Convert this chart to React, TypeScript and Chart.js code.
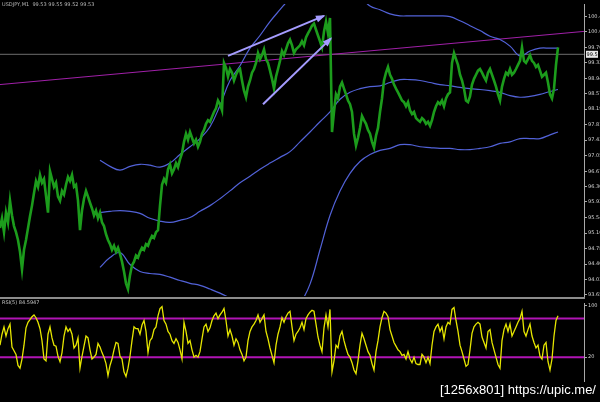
import React, { useEffect, useRef } from "react";
import { Chart, registerables } from "chart.js";
Chart.register(...registerables);

// ---- texts ----
const SYMBOL_TEXT = "USDJPY,M1  99.53 99.55 99.52 99.53";
const RSI_TITLE = "RSI(5) 84.5947";
const WATERMARK = "[1256x801] https://upic.me/";

// ---- price (close per bar, bar index = position in array) ----
const PRICE: number[] = [
  95.28, 95.52, 95.18, 95.66, 95.42, 95.95, 95.59, 95.33, 95.18, 94.99, 94.70, 94.27, 94.75, 94.99, 95.28,
  95.57, 95.83, 96.14, 96.43, 96.29, 96.58, 96.39, 96.48, 96.07, 95.66, 96.67, 96.48, 96.29, 96.39, 96.05,
  95.95, 96.19, 96.10, 96.34, 96.53, 96.43, 96.58, 96.29, 96.34, 95.95, 95.23, 95.71, 96.00, 96.19, 96.05,
  95.90, 95.76, 95.59, 95.71, 95.52, 95.66, 95.42, 95.33, 95.13, 94.99, 94.89, 94.75, 94.85, 94.70, 94.80,
  94.65, 94.46, 94.22, 93.93, 93.79, 94.13, 94.37, 94.46, 94.61, 94.56, 94.70, 94.80, 94.75, 94.89, 94.85,
  94.99, 95.09, 95.04, 95.18, 95.23, 95.83, 96.34, 96.48, 96.39, 96.72, 96.84, 96.62, 96.72, 96.87, 96.77,
  96.96, 97.11, 97.39, 97.59, 97.44, 97.63, 97.49, 97.35, 97.44, 97.27, 97.39, 97.59, 97.68, 97.83, 97.92,
  97.88, 98.00, 98.12, 98.21, 98.40, 98.31, 98.16, 99.32, 99.20, 98.98, 99.17, 99.08, 98.89, 99.03, 99.13,
  99.17, 98.89, 98.64, 98.48, 98.74, 98.89, 99.08, 99.17, 99.32, 99.56, 99.41, 99.51, 99.65, 99.41, 99.32,
  99.13, 98.93, 98.69, 98.98, 99.17, 99.37, 99.61, 99.51, 99.65, 99.80, 99.89, 99.75, 99.56, 99.65, 99.70,
  99.75, 99.85, 99.75, 99.94, 100.04, 100.13, 100.23, 100.28, 100.13, 99.99, 99.85, 99.70, 100.09, 100.33, 100.04,
  100.42, 97.63, 98.12, 98.55, 98.45, 98.74, 98.84, 98.69, 98.55, 98.40, 98.31, 98.12, 97.59, 97.30, 97.49,
  97.73, 98.02, 97.92, 97.83, 97.68, 97.59, 97.39, 97.25, 97.54, 97.73, 98.12, 98.45, 98.89, 99.08, 99.22,
  99.03, 98.93, 98.79, 98.69, 98.60, 98.50, 98.40, 98.36, 98.26, 98.36, 98.16, 98.07, 98.12, 97.97, 97.92,
  97.88, 97.97, 97.92, 97.83, 97.88, 97.78, 97.92, 98.12, 98.26, 98.36, 98.31, 98.40, 98.26, 98.45, 98.55,
  98.60, 99.32, 99.56, 99.41, 99.27, 99.03, 98.89, 98.69, 98.40, 98.36, 98.50, 98.79, 98.93, 99.03, 99.13,
  99.17, 99.08, 98.98, 98.89, 99.08, 99.17, 99.03, 98.89, 98.74, 98.55, 98.40, 98.74, 98.93, 99.08, 99.03,
  99.17, 99.03, 99.08, 99.17, 99.27, 99.37, 99.70, 99.37, 99.32, 99.41, 99.51, 99.37, 99.32, 99.22, 99.27,
  99.13, 98.98, 99.03, 99.08, 98.84, 98.55, 98.45, 98.69, 99.27, 99.70,
];

// ---- Bollinger bands ----
const BAND_BARS: number[] = [
  50, 55, 60, 65, 70, 75, 80, 85, 90, 95, 100, 105, 110, 115, 120, 125, 130, 135, 140, 145,
  150, 155, 160, 165, 170, 175, 180, 185, 190, 195, 200, 205, 210, 215, 220, 225, 230, 235, 240, 245,
  250, 255, 260, 265, 270, 275, 279,
];
const UPPER: number[] = [
  96.94, 96.79, 96.70, 96.79, 96.84, 96.82, 96.77, 96.87, 97.08, 97.27,
  97.47, 97.76, 98.28, 98.89, 99.25, 99.68, 99.99, 100.33, 100.62, 100.90,
  101.12, 101.29, 101.43, 101.48, 101.43, 101.19, 100.95, 100.71, 100.62, 100.52,
  100.47, 100.47, 100.47, 100.47, 100.47, 100.45, 100.35, 100.23, 100.11, 99.97,
  99.89, 99.73, 99.49, 99.61, 99.68, 99.68, 99.68,
];
const MIDDLE: number[] = [
  95.66, 95.69, 95.71, 95.69, 95.64, 95.52, 95.45, 95.42, 95.47, 95.54,
  95.69, 95.83, 96.00, 96.19, 96.39, 96.55, 96.72, 96.87, 97.01, 97.15,
  97.39, 97.63, 97.88, 98.12, 98.43, 98.60, 98.69, 98.74, 98.76, 98.84,
  98.91, 98.91, 98.89, 98.84, 98.79, 98.76, 98.72, 98.69, 98.67, 98.64,
  98.60, 98.52, 98.48, 98.50, 98.55, 98.62, 98.67,
];
const LOWER: number[] = [
  94.32, 94.56, 94.68, 94.39, 94.22, 94.17, 94.15, 94.08, 94.00, 93.93,
  93.88, 93.79, 93.69, 93.57, 93.43, 93.31, 93.19, 93.12, 93.12, 93.16,
  93.43, 93.91, 94.75, 95.59, 96.19, 96.62, 96.91, 97.08, 97.18, 97.23,
  97.32, 97.32, 97.27, 97.25, 97.23, 97.23, 97.20, 97.20, 97.23, 97.27,
  97.35, 97.39, 97.47, 97.47, 97.47, 97.56, 97.63,
];

// ---- annotations ----
const TREND_BARS = [0, 292];
const TREND = [98.79, 100.09];
const ARROW1_BARS = [114, 162];
const ARROW1 = [99.49, 100.47];
const ARROW2_BARS = [131.5, 165.5];
const ARROW2 = [98.31, 99.92];
const CURRENT_PRICE = 99.53;
const CURRENT_LABEL = "99.53";

// ---- price axis ----
const PRICE_TICKS = [93.65, 94.03, 94.40, 94.78, 95.16, 95.54, 95.92, 96.30, 96.67, 97.05,
  97.43, 97.81, 98.19, 98.57, 98.94, 99.32, 99.70, 100.08, 100.46];
const PRICE_TICK_LABELS = ["93.65", "94.03", "94.40", "94.78", "95.16", "95.54", "95.92", "96.30", "96.67", "97.05",
  "97.43", "97.81", "98.19", "98.57", "98.94", "99.32", "99.70", "100.0", "100.4"];

// ---- oscillator ----
const RSI: number[] = [
  38.6, 55.7, 67.1, 52.9, 64.3, 71.4, 35.7, 30.0, 24.3, 7.1, 2.9, 17.1, 38.6, 65.7, 74.3,
  78.6, 82.9, 85.7, 81.4, 74.3, 64.3, 45.7, 17.1, 14.3, 55.7, 67.1, 50.0, 38.6, 37.1, 21.4,
  12.9, 27.1, 52.9, 67.1, 60.0, 64.3, 55.7, 34.3, 38.6, 50.0, 2.9, 21.4, 37.1, 52.9, 50.0,
  31.4, 17.1, 20.0, 24.3, 41.4, 35.7, 27.1, 20.0, 10.0, -8.6, 7.1, 17.1, 31.4, 42.9, 41.4,
  21.4, 17.1, -2.9, -10.0, 2.9, 21.4, 45.7, 67.1, 64.3, 64.3, 55.7, 70.0, 77.1, 60.0, 27.1,
  45.7, 50.0, 62.9, 67.1, 84.3, 95.7, 98.6, 77.1, 71.4, 60.0, 55.7, 45.7, 41.4, 48.6, 42.9,
  31.4, 17.1, 74.3, 60.0, 41.4, 45.7, 31.4, 20.0, 22.9, 20.0, 28.6, 48.6, 67.1, 71.4, 60.0,
  65.7, 77.1, 84.3, 88.6, 80.0, 85.7, 90.0, 95.7, 77.1, 52.9, 62.9, 52.9, 38.6, 48.6, 42.9,
  31.4, 24.3, 14.3, 20.0, 45.7, 60.0, 67.1, 71.4, 77.1, 85.7, 74.3, 80.0, 85.7, 60.0, 48.6,
  34.3, 22.9, 11.4, 38.6, 55.7, 67.1, 81.4, 74.3, 82.9, 88.6, 91.4, 67.1, 45.7, 55.7, 60.0,
  65.7, 74.3, 62.9, 80.0, 85.7, 90.0, 92.9, 91.4, 71.4, 51.4, 38.6, 28.6, 65.7, 85.7, 67.1,
  94.3, -2.9, 14.3, 38.6, 34.3, 52.9, 60.0, 45.7, 34.3, 24.3, 20.0, 11.4, 0.0, -5.7, 14.3,
  38.6, 57.1, 48.6, 38.6, 28.6, 22.9, 10.0, 0.0, 28.6, 45.7, 67.1, 81.4, 91.4, 88.6, 82.9,
  62.9, 52.9, 42.9, 37.1, 31.4, 28.6, 22.9, 24.3, 17.1, 28.6, 17.1, 11.4, 20.0, 10.0, 8.6,
  8.6, 24.3, 20.0, 11.4, 20.0, 10.0, 38.6, 60.0, 67.1, 71.4, 60.0, 67.1, 48.6, 67.1, 74.3,
  71.4, 94.3, 97.1, 77.1, 60.0, 38.6, 28.6, 17.1, 5.7, 8.6, 31.4, 57.1, 67.1, 71.4, 74.3,
  71.4, 51.4, 42.9, 34.3, 60.0, 62.9, 42.9, 31.4, 20.0, 8.6, 2.9, 45.7, 62.9, 71.4, 60.0,
  71.4, 52.9, 60.0, 67.1, 74.3, 80.0, 91.4, 60.0, 52.9, 62.9, 71.4, 52.9, 42.9, 34.3, 38.6,
  21.4, 17.1, 38.6, 42.9, 12.9, 0.0, 17.1, 52.9, 77.1, 84.3,
];
const RSI_LEVELS = [80, 20];
const RSI_TICKS = [20, 100];
const RSI_TICK_LABELS = ["20", "100"];

const X_MAX = 292;
const GREEN = "#1c9c1c";
const BLUE = "#5262d8";
const ARROW_COLOR = "#a59cff";
const AXIS_COLOR = "#a8a8a8";
const LABEL_FONT = { size: 5, family: "DejaVu Sans" };

const pts = (xs: number[], ys: number[]) => ys.map((v, i) => ({ x: xs[i], y: v }));

const mainOverlay = {
  id: "mainOverlay",
  afterDatasetsDraw(chart: any) {
    const ctx = chart.ctx;
    const xs = chart.scales.x;
    const ys = chart.scales.y;
    const arrows: [number[], number[]][] = [[ARROW1_BARS, ARROW1], [ARROW2_BARS, ARROW2]];
    arrows.forEach(([bx, py]) => {
      const x0 = xs.getPixelForValue(bx[0]);
      const y0 = ys.getPixelForValue(py[0]);
      const x1 = xs.getPixelForValue(bx[1]);
      const y1 = ys.getPixelForValue(py[1]);
      const a = Math.atan2(y1 - y0, x1 - x0);
      const L = 8, W = 3.5;
      ctx.save();
      ctx.fillStyle = ARROW_COLOR;
      ctx.beginPath();
      ctx.moveTo(x1 + 1.5 * Math.cos(a), y1 + 1.5 * Math.sin(a));
      ctx.lineTo(x1 - L * Math.cos(a) + W * Math.sin(a), y1 - L * Math.sin(a) - W * Math.cos(a));
      ctx.lineTo(x1 - L * Math.cos(a) - W * Math.sin(a), y1 - L * Math.sin(a) + W * Math.cos(a));
      ctx.closePath();
      ctx.fill();
      ctx.restore();
    });
  },
  afterDraw(chart: any) {
    const ctx = chart.ctx;
    const ys = chart.scales.y;
    const yp = ys.getPixelForValue(CURRENT_PRICE);
    const left = chart.chartArea.right + 2;
    ctx.save();
    ctx.fillStyle = "#e6e6e6";
    ctx.fillRect(left, yp - 3.5, 12, 7);
    ctx.fillStyle = "#000";
    ctx.font = "5px DejaVu Sans";
    ctx.textBaseline = "middle";
    ctx.fillText(CURRENT_LABEL, left + 0.5, yp);
    ctx.fillStyle = "#b8b8b8";
    ctx.textBaseline = "top";
    ctx.fillText(SYMBOL_TEXT, 2, 2);
    ctx.restore();
  },
};

const rsiOverlay = {
  id: "rsiOverlay",
  afterDraw(chart: any) {
    const ctx = chart.ctx;
    ctx.save();
    ctx.fillStyle = "#c8c8c8";
    ctx.font = "5px DejaVu Sans";
    ctx.textBaseline = "top";
    ctx.fillText(RSI_TITLE, 2, 1);
    ctx.restore();
  },
};

export default function App() {
  const mainRef = useRef<HTMLCanvasElement>(null);
  const rsiRef = useRef<HTMLCanvasElement>(null);

  useEffect(() => {
    const lineDs = (label: string, data: any[], color: string, width: number, extra: any = {}) => ({
      label, data, borderColor: color, borderWidth: width, pointRadius: 0, fill: false, tension: 0, ...extra,
    });

    const main = new Chart(mainRef.current as HTMLCanvasElement, {
      type: "line",
      data: {
        datasets: [
          lineDs("Arrow 1", pts(ARROW1_BARS, ARROW1), ARROW_COLOR, 2),
          lineDs("Arrow 2", pts(ARROW2_BARS, ARROW2), ARROW_COLOR, 2),
          lineDs("Price", PRICE.map((v, i) => ({ x: i, y: v })), GREEN, 2.6, { borderJoinStyle: "miter" }),
          lineDs("Upper", pts(BAND_BARS, UPPER), BLUE, 1.2, { tension: 0.4 }),
          lineDs("Middle", pts(BAND_BARS, MIDDLE), BLUE, 1.2, { tension: 0.4 }),
          lineDs("Lower", pts(BAND_BARS, LOWER), BLUE, 1.2, { tension: 0.4 }),
          lineDs("Trend", pts(TREND_BARS, TREND), "#a020a8", 1),
          lineDs("Current", pts(TREND_BARS, [CURRENT_PRICE, CURRENT_PRICE]), "#6e6e6e", 1),
        ],
      },
      options: {
        animation: false,
        responsive: false,
        maintainAspectRatio: false,
        layout: { padding: { left: 0, right: 0, top: 0, bottom: 3 } },
        plugins: { legend: { display: false }, tooltip: { enabled: false } },
        scales: {
          x: { type: "linear", min: 0, max: X_MAX, display: false },
          y: {
            position: "right",
            min: 93.62,
            max: 100.76,
            afterFit: (s: any) => { s.width = 16; },
            afterBuildTicks: (s: any) => { s.ticks = PRICE_TICKS.map((v) => ({ value: v })); },
            ticks: {
              autoSkip: false,
              color: "#d2d2d2",
              font: LABEL_FONT,
              padding: 1,
              callback: (_v: any, i: number) => PRICE_TICK_LABELS[i],
            },
            grid: { drawOnChartArea: false, drawTicks: true, tickLength: 3, color: AXIS_COLOR },
            border: { display: true, color: AXIS_COLOR, width: 1 },
          },
        },
      } as any,
      plugins: [mainOverlay],
    });

    const rsi = new Chart(rsiRef.current as HTMLCanvasElement, {
      type: "line",
      data: {
        datasets: [
          lineDs("RSI", RSI.map((v, i) => ({ x: i, y: v })), "#e6e600", 1.3),
          lineDs("Level high", pts(TREND_BARS, [RSI_LEVELS[0], RSI_LEVELS[0]]), "#b014b4", 2),
          lineDs("Level low", pts(TREND_BARS, [RSI_LEVELS[1], RSI_LEVELS[1]]), "#b014b4", 2),
        ],
      },
      options: {
        animation: false,
        responsive: false,
        maintainAspectRatio: false,
        layout: { padding: { left: 0, right: 0, top: 0, bottom: 1 } },
        plugins: { legend: { display: false }, tooltip: { enabled: false } },
        scales: {
          x: { type: "linear", min: 0, max: X_MAX, display: false },
          y: {
            position: "right",
            min: -17.1,
            max: 104.3,
            afterFit: (s: any) => { s.width = 16; },
            afterBuildTicks: (s: any) => { s.ticks = RSI_TICKS.map((v) => ({ value: v })); },
            ticks: {
              autoSkip: false,
              color: "#d2d2d2",
              font: LABEL_FONT,
              padding: 1,
              callback: (_v: any, i: number) => RSI_TICK_LABELS[i],
            },
            grid: { drawOnChartArea: false, drawTicks: true, tickLength: 3, color: AXIS_COLOR },
            border: { display: true, color: AXIS_COLOR, width: 1 },
          },
        },
      } as any,
      plugins: [rsiOverlay],
    });

    return () => { main.destroy(); rsi.destroy(); };
  }, []);

  return (
    <div style={{ position: "fixed", left: 0, top: 0, width: 600, height: 402, background: "#000", overflow: "hidden" }}>
      <canvas ref={mainRef} width={600} height={300} style={{ position: "absolute", left: 0, top: 0, width: 600, height: 300 }} />
      <div style={{ position: "absolute", left: 0, top: 297, width: 585, height: 2, background: "#8c8c8c" }} />
      <canvas ref={rsiRef} width={600} height={86} style={{ position: "absolute", left: 0, top: 299, width: 600, height: 86 }} />
      <div style={{ position: "absolute", right: 4, top: 382, color: "#fff", fontFamily: "'Liberation Sans', sans-serif", fontSize: 13, lineHeight: "16px", whiteSpace: "nowrap" }}>
        {WATERMARK}
      </div>
    </div>
  );
}
